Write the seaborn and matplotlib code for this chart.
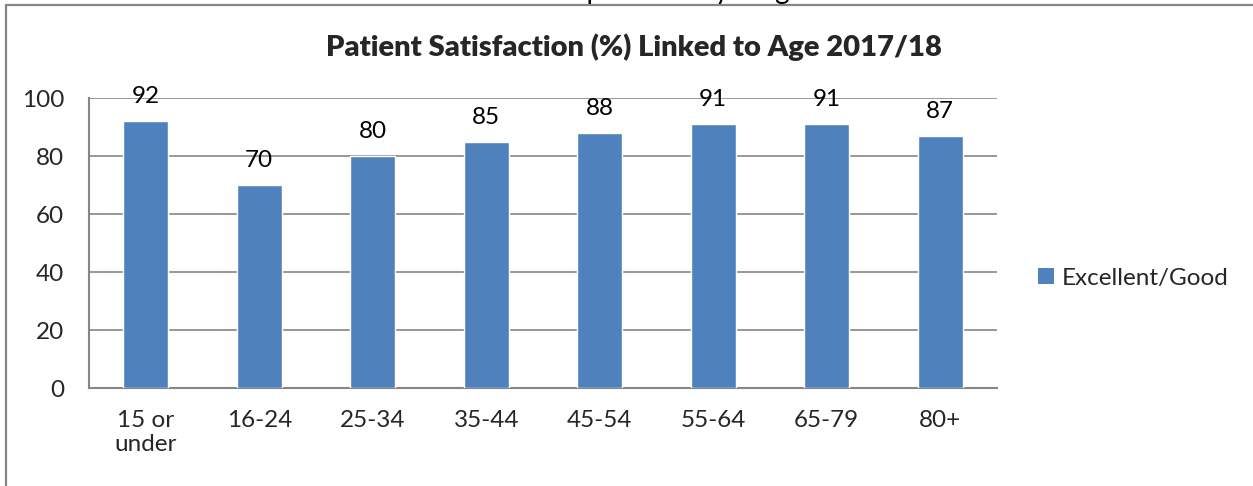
import matplotlib
matplotlib.use("Agg")
import matplotlib.pyplot as plt
import seaborn as sns
import pandas as pd
from matplotlib.lines import Line2D
from matplotlib.patches import Patch

age_groups = ["15 or\nunder", "16-24", "25-34", "35-44", "45-54", "55-64", "65-79", "80+"]
excellent_good = [92, 70, 80, 85, 88, 91, 91, 87]
y_ticks = [0, 20, 40, 60, 80, 100]
series_name = "Excellent/Good"
chart_title = "Patient Satisfaction (%) Linked to Age 2017/18"
heading = "Patient Experience by Stage"

sns.set_theme(style="white")
plt.rcParams["font.family"] = ["Lato", "DejaVu Sans"]

bar_color = "#4F81BD"
grid_color = "#868686"
fs = 17.5

df = pd.DataFrame({"age": age_groups, "pct": excellent_good})

W, H = 1253, 486
fig = plt.figure(figsize=(W / 100, H / 100), dpi=100)
ax = fig.add_axes([89 / W, 1 - 388 / H, (997 - 89) / W, (388 - 98) / H])

sns.barplot(data=df, x="age", y="pct", color=bar_color, width=0.4,
            saturation=1, ax=ax, zorder=3)

ax.set_ylim(0, 100)
ax.set_xlim(-0.5, len(age_groups) - 0.5)
ax.set_yticks(y_ticks)
ax.set_yticklabels([str(v) for v in y_ticks], fontsize=fs)
ax.tick_params(axis="y", length=0, pad=18)
ax.tick_params(axis="x", length=0, pad=16, labelsize=fs)
for lbl in ax.get_xticklabels():
    lbl.set_linespacing(1.15)
ax.set_xlabel("")
ax.set_ylabel("")
ax.yaxis.grid(True, color=grid_color, linewidth=1.2, zorder=0)
ax.set_axisbelow(True)
for side in ["top", "right"]:
    ax.spines[side].set_visible(False)
for side in ["left", "bottom"]:
    ax.spines[side].set_color(grid_color)
    ax.spines[side].set_linewidth(1.5)

for i, v in enumerate(excellent_good):
    ax.annotate(str(v), (i, v), xytext=(0, 10), textcoords="offset points",
                ha="center", va="bottom", fontsize=fs, color="black")

fig.text(634 / W, 1 - 47 / H, chart_title, ha="center", va="center",
         fontsize=21, fontweight="heavy")

handle = Patch(facecolor=bar_color, edgecolor="none")
fig.legend([handle], [series_name], loc="center left",
           bbox_to_anchor=(1016 / W, 1 - 278 / H), frameon=False,
           fontsize=fs, handlelength=0.65, handleheight=0.65, handletextpad=0.35)

# outer chart frame (left and top edges) and the heading sitting above it
fig.add_artist(Line2D([6 / W, 6 / W], [0, 1 - 5 / H], transform=fig.transFigure,
                      color=grid_color, linewidth=1.6))
fig.add_artist(Line2D([6 / W, 1], [1 - 5 / H, 1 - 5 / H], transform=fig.transFigure,
                      color=grid_color, linewidth=1.6))
fig.text(462 / W, 1 + 1 / H, heading, ha="left",
         va="baseline", fontsize=20, color="black")

fig.savefig("out.png", dpi=100)
